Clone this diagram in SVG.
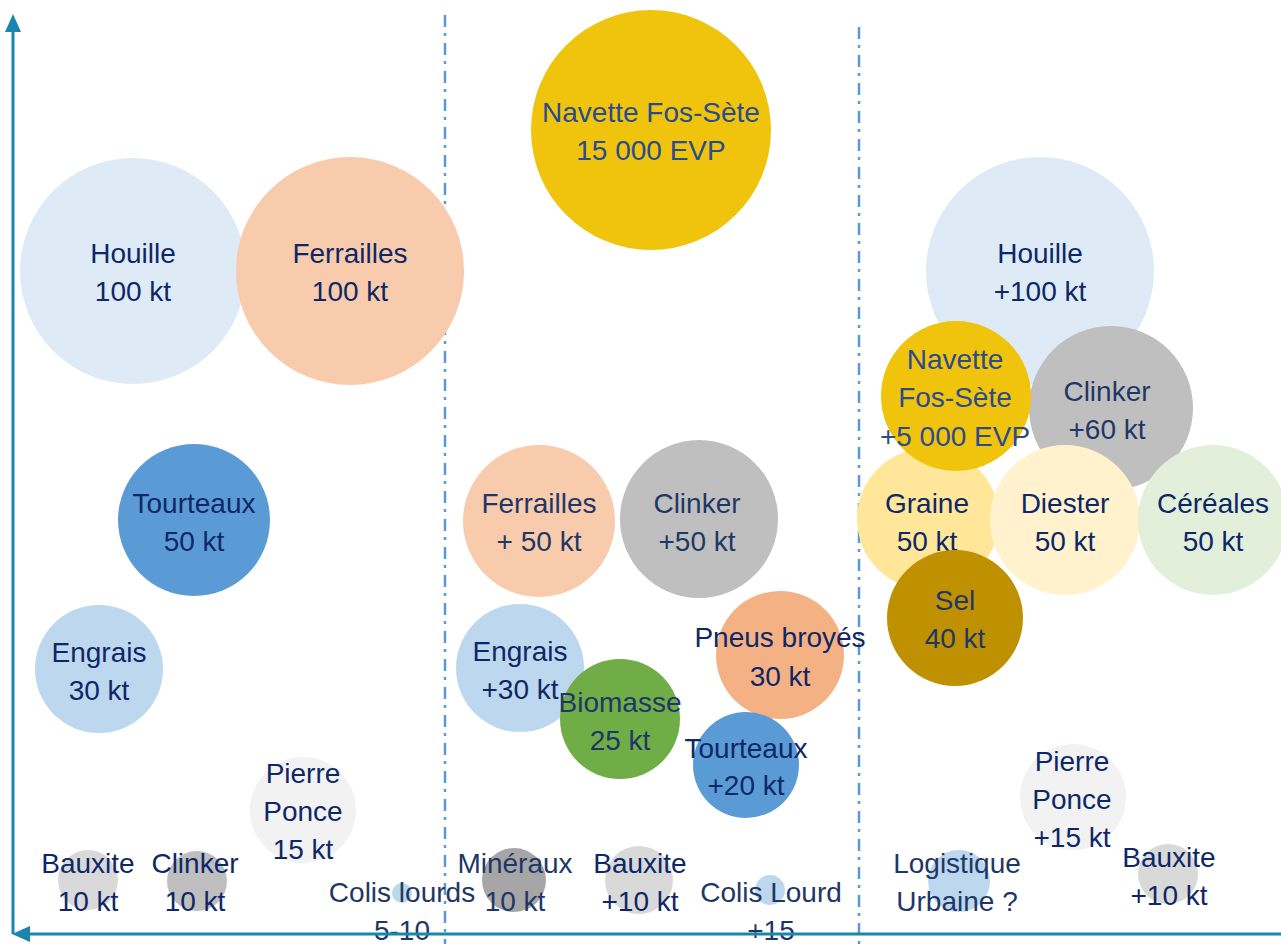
<svg xmlns="http://www.w3.org/2000/svg" width="1281" height="944" viewBox="0 0 1281 944">
<defs>
<style>
text{font-family:"Liberation Sans",Arial,sans-serif;font-size:28px;text-anchor:middle;fill:#0E2766}
.t2{fill:#2A4B8D}
.t3{fill:#1F3766}
.sep{stroke:#5B9BD5;stroke-width:2.5;fill:none;stroke-dasharray:12 6 3 7}
.axis{stroke:#1A86AD;stroke-width:3;fill:none}
.head{fill:#1A86AD}
</style>
</defs>
<rect width="1281" height="944" fill="#fff"/>
<g id="connectors">
<line class="sep" x1="445" y1="15" x2="445" y2="944"/>
<line class="sep" x1="859" y1="27" x2="859" y2="944"/>
</g>
<g id="houille"><circle cx="133" cy="271" r="113" fill="#DEEBF7"/><text x="133" y="263">Houille</text><text x="133" y="301">100 kt</text></g>
<g id="ferrailles"><circle cx="350" cy="271" r="114" fill="#F8CBAD"/><text x="350" y="263">Ferrailles</text><text x="350" y="301">100 kt</text></g>
<g id="tourteaux"><circle cx="194" cy="520" r="76" fill="#5B9BD5"/><text x="194" y="513">Tourteaux</text><text x="194" y="551">50 kt</text></g>
<g id="engrais"><circle cx="99" cy="669" r="64" fill="#BDD7EE"/><text x="99" y="662">Engrais</text><text x="99" y="700">30 kt</text></g>
<g id="pierre-ponce"><circle cx="303" cy="810" r="53" fill="#F2F2F2"/><text x="303" y="783">Pierre</text><text x="303" y="821">Ponce</text><text x="303" y="859">15 kt</text></g>
<g id="bauxite"><circle cx="88" cy="880" r="30" fill="#D9D9D9"/><text x="88" y="873">Bauxite</text><text x="88" y="911">10 kt</text></g>
<g id="clinker"><circle cx="197" cy="881" r="30" fill="#BFBFBF"/><text x="195" y="873">Clinker</text><text x="195" y="911">10 kt</text></g>
<g id="colis-lourds"><circle cx="402" cy="893" r="10" fill="#BDD7EE"/><text class="t3" x="402" y="902">Colis lourds</text><text class="t3" x="402" y="940">5-10</text></g>
<g id="navette"><circle cx="651" cy="130" r="120" fill="#F0C40C"/><text class="t2" x="651" y="122">Navette Fos-Sète</text><text class="t2" x="651" y="160">15 000 EVP</text></g>
<g id="ferrailles-2"><circle cx="539" cy="521" r="76" fill="#F8CBAD"/><text class="t3" x="539" y="513">Ferrailles</text><text class="t3" x="539" y="551">+ 50 kt</text></g>
<g id="clinker-2"><circle cx="699" cy="519" r="79" fill="#BFBFBF"/><text class="t3" x="697" y="513">Clinker</text><text class="t3" x="697" y="551">+50 kt</text></g>
<g id="engrais-2"><circle cx="520" cy="668" r="64" fill="#BDD7EE"/><text x="520" y="661">Engrais</text><text x="520" y="699">+30 kt</text></g>
<g id="biomasse"><circle cx="620" cy="719" r="60" fill="#70AD47"/><text class="t3" x="620" y="712">Biomasse</text><text class="t3" x="620" y="750">25 kt</text></g>
<g id="pneus"><circle cx="780" cy="655" r="64" fill="#F4B183"/><text x="780" y="647">Pneus broyés</text><text x="780" y="686">30 kt</text></g>
<g id="tourteaux-2"><circle cx="746" cy="765" r="53" fill="#5B9BD5"/><text x="746" y="758">Tourteaux</text><text x="746" y="795">+20 kt</text></g>
<g id="mineraux"><circle cx="514" cy="880" r="32" fill="#A6A6A6"/><text class="t3" x="515" y="873">Minéraux</text><text class="t3" x="515" y="911">10 kt</text></g>
<g id="bauxite-2"><circle cx="639" cy="880" r="34" fill="#D9D9D9"/><text x="640" y="873">Bauxite</text><text x="640" y="911">+10 kt</text></g>
<g id="colis-lourd"><circle cx="770" cy="890" r="15" fill="#BDD7EE"/><text class="t3" x="771" y="902">Colis Lourd</text><text class="t3" x="771" y="940">+15</text></g>
<g id="houille-3"><circle cx="1040" cy="271" r="114" fill="#DEEBF7"/><text x="1040" y="263">Houille</text><text x="1040" y="301">+100 kt</text></g>
<g id="clinker-3"><circle cx="1111" cy="408" r="82" fill="#BFBFBF"/><text class="t3" x="1107" y="401">Clinker</text><text class="t3" x="1107" y="439">+60 kt</text></g>
<g id="graine"><circle cx="928" cy="519" r="71" fill="#FFE699"/><text x="927" y="513">Graine</text><text x="927" y="551">50 kt</text></g>
<g id="navette-3"><circle cx="956" cy="396" r="75" fill="#F0C40C"/><text class="t2" x="955" y="369">Navette</text><text class="t2" x="955" y="407">Fos-Sète</text><text class="t2" x="955" y="446">+5 000 EVP</text></g>
<g id="diester"><circle cx="1065" cy="520" r="75" fill="#FFF2CC"/><text x="1065" y="513">Diester</text><text x="1065" y="551">50 kt</text></g>
<g id="cereales"><circle cx="1213" cy="520" r="75" fill="#E2EFDA"/><text x="1213" y="513">Céréales</text><text x="1213" y="551">50 kt</text></g>
<g id="sel"><circle cx="955" cy="618" r="68" fill="#BF9000"/><text class="t3" x="955" y="610">Sel</text><text class="t3" x="955" y="648">40 kt</text></g>
<g id="pierre-ponce-3"><circle cx="1073" cy="797" r="53" fill="#F2F2F2"/><text x="1072" y="771">Pierre</text><text x="1072" y="809">Ponce</text><text x="1072" y="847">+15 kt</text></g>
<g id="logistique"><circle cx="959" cy="881" r="31" fill="#BDD7EE"/><text class="t3" x="957" y="873">Logistique</text><text class="t3" x="957" y="911">Urbaine ?</text></g>
<g id="bauxite-3"><circle cx="1168" cy="874" r="30" fill="#D9D9D9"/><text x="1169" y="867">Bauxite</text><text x="1169" y="905">+10 kt</text></g>
<g id="axes">
<line class="axis" x1="13" y1="934" x2="13" y2="28"/>
<polygon class="head" points="13,14 5,32 21,32"/>
<line class="axis" x1="1281" y1="934" x2="28" y2="934"/>
<polygon class="head" points="12,934 30,926 30,942"/>
</g>
</svg>
